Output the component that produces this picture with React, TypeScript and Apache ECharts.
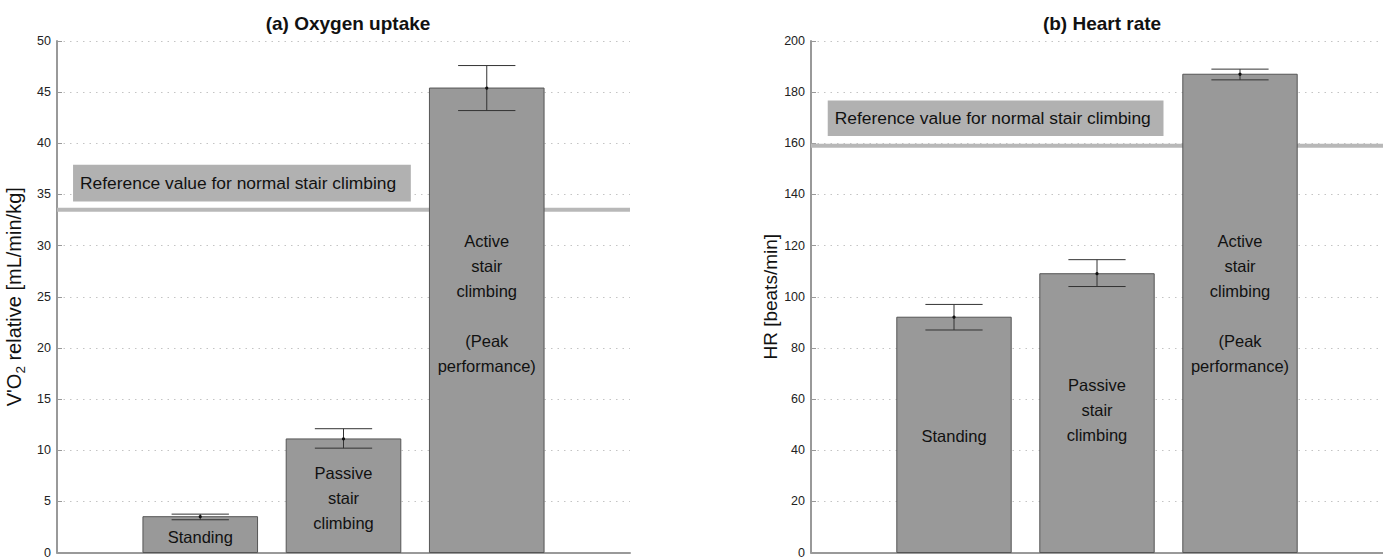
import React, { useEffect, useRef } from "react";
import * as echarts from "echarts";

// Bar positions on the x axis (1, 2, 3) and their in-bar captions
const categories = ["Standing", "Passive stair climbing", "Active stair climbing (Peak performance)"];
const barCaptions = [
  "Standing",
  "Passive\nstair\nclimbing",
  "Active\nstair\nclimbing\n\n(Peak\nperformance)",
];

// (a) Oxygen uptake, mL/min/kg
const vo2Mean = [3.5, 11.1, 45.4];
const vo2Low = [3.2, 10.2, 43.2];
const vo2High = [3.75, 12.1, 47.6];
const vo2Reference = 33.5;
const vo2Ticks = [0, 5, 10, 15, 20, 25, 30, 35, 40, 45, 50];

// (b) Heart rate, beats/min
const hrMean = [92, 109, 187];
const hrLow = [87, 104, 184.8];
const hrHigh = [97, 114.5, 189];
const hrReference = 159;
const hrTicks = [0, 20, 40, 60, 80, 100, 120, 140, 160, 180, 200];

// Where the captions sit inside the bars (value-axis units)
const vo2CaptionY = [1.55, 5.3, 24.3];
const hrCaptionY = [45.7, 55.9, 97.5];

// Reference-value label boxes: [x0, x1, y0, y1] in axis units
const vo2RefBox = [0.112, 2.47, 34.3, 37.9];
const hrRefBox = [0.117, 2.465, 162.9, 176.7];
const refText = "Reference value for normal stair climbing";

const FONT = "'Liberation Sans', Arial, Helvetica, sans-serif";
const BAR_HALF = 0.4;
const CAP_HALF = 0.2;

function panelSeries(
  idx: number,
  mean: number[],
  low: number[],
  high: number[],
  captionY: number[],
  ref: number,
  box: number[]
): any[] {
  const common = { xAxisIndex: idx, yAxisIndex: idx, silent: true };
  return [
    // reference line across the whole panel
    {
      ...common,
      type: "custom",
      z: 2,
      data: [[0, ref]],
      renderItem: (_p: any, api: any) => {
        const a = api.coord([0, api.value(1)]);
        const b = api.coord([4, api.value(1)]);
        return {
          type: "line",
          shape: { x1: a[0], y1: a[1], x2: b[0], y2: b[1] },
          style: { stroke: "#b8b8b8", lineWidth: 4 },
        };
      },
    },
    // reference label box
    {
      ...common,
      type: "custom",
      z: 3,
      data: [box],
      renderItem: (_p: any, api: any) => {
        const tl = api.coord([api.value(0), api.value(3)]);
        const br = api.coord([api.value(1), api.value(2)]);
        return {
          type: "group",
          children: [
            {
              type: "rect",
              shape: { x: tl[0], y: tl[1], width: br[0] - tl[0], height: br[1] - tl[1] },
              style: { fill: "#b1b1b1" },
            },
            {
              type: "text",
              x: tl[0] + 7,
              y: (tl[1] + br[1]) / 2,
              style: {
                text: refText,
                fill: "#111",
                fontSize: 17.4,
                fontFamily: FONT,
                textAlign: "left",
                textVerticalAlign: "middle",
              },
            },
          ],
        };
      },
    },
    // bars
    {
      ...common,
      type: "custom",
      name: "bars",
      z: 4,
      data: mean.map((v, i) => [i + 1, v]),
      renderItem: (_p: any, api: any) => {
        const x = api.value(0);
        const p0 = api.coord([x - BAR_HALF, api.value(1)]);
        const p1 = api.coord([x + BAR_HALF, 0]);
        return {
          type: "rect",
          shape: { x: p0[0], y: p0[1], width: p1[0] - p0[0], height: p1[1] - p0[1] },
          style: { fill: "#999999", stroke: "#555555", lineWidth: 1 },
        };
      },
    },
    // captions inside bars
    {
      ...common,
      type: "custom",
      z: 5,
      data: captionY.map((y, i) => [i + 1, y]),
      renderItem: (p: any, api: any) => {
        const c = api.coord([api.value(0), api.value(1)]);
        return {
          type: "text",
          x: c[0],
          y: c[1],
          style: {
            text: barCaptions[p.dataIndex],
            fill: "#111",
            fontSize: 16.5,
            lineHeight: 25,
            fontFamily: FONT,
            textAlign: "center",
            textVerticalAlign: "middle",
          },
        };
      },
    },
    // error bars
    {
      ...common,
      type: "custom",
      z: 6,
      data: mean.map((v, i) => [i + 1, low[i], high[i], v]),
      renderItem: (_p: any, api: any) => {
        const x = api.value(0);
        const lo = api.coord([x, api.value(1)]);
        const hi = api.coord([x, api.value(2)]);
        const mid = api.coord([x, api.value(3)]);
        const l = api.coord([x - CAP_HALF, api.value(1)]);
        const r = api.coord([x + CAP_HALF, api.value(1)]);
        const w = r[0] - l[0];
        const st = { stroke: "#333333", lineWidth: 1 };
        return {
          type: "group",
          children: [
            { type: "line", shape: { x1: lo[0], y1: lo[1], x2: hi[0], y2: hi[1] }, style: st },
            { type: "line", shape: { x1: l[0], y1: lo[1], x2: l[0] + w, y2: lo[1] }, style: st },
            { type: "line", shape: { x1: l[0], y1: hi[1], x2: l[0] + w, y2: hi[1] }, style: st },
            { type: "circle", shape: { cx: mid[0], cy: mid[1], r: 1.6 }, style: { fill: "#111" } },
          ],
        };
      },
    },
  ];
}

function yAxisOf(idx: number, ticks: number[], name: string, gap: number, size: number): any {
  return {
    type: "value",
    gridIndex: idx,
    min: ticks[0],
    max: ticks[ticks.length - 1],
    interval: ticks[1] - ticks[0],
    name,
    nameLocation: "middle",
    nameGap: gap,
    nameRotate: 90,
    nameTextStyle: {
      fontSize: size,
      fontFamily: FONT,
      color: "#111",
      rich: {
        n: { fontSize: size, fontFamily: FONT, color: "#111", lineHeight: 22 },
        sub: { fontSize: 13.5, fontFamily: FONT, color: "#111", lineHeight: 27, verticalAlign: "bottom" },
      },
    },
    axisLine: { show: true, lineStyle: { color: "#999999", width: 2 } },
    axisTick: { show: true, inside: true, length: 5, lineStyle: { color: "#999999" } },
    axisLabel: { fontSize: 12.5, fontFamily: FONT, color: "#222", margin: 6 },
    splitLine: { show: true, lineStyle: { color: "#c4c4c4", type: [1.5, 5], width: 1 } },
  };
}

function xAxisOf(idx: number): any {
  return {
    type: "value",
    gridIndex: idx,
    min: 0,
    max: 4,
    axisLine: { show: true, lineStyle: { color: "#999999", width: 2 } },
    axisTick: { show: false },
    axisLabel: { show: false },
    splitLine: { show: false },
  };
}

export default function App() {
  const ref = useRef<HTMLDivElement>(null);

  useEffect(() => {
    if (!ref.current) return;
    const chart = echarts.init(ref.current, null, { renderer: "svg" });
    chart.setOption({
      animation: false,
      backgroundColor: "#ffffff",
      title: [
        {
          text: "(a) Oxygen uptake",
          left: 343,
          top: 9,
          textAlign: "center",
          textStyle: { fontSize: 19, fontWeight: "bold", fontFamily: FONT, color: "#111" },
        },
        {
          text: "(b) Heart rate",
          left: 1097,
          top: 9,
          textAlign: "center",
          textStyle: { fontSize: 19, fontWeight: "bold", fontFamily: FONT, color: "#111" },
        },
      ],
      grid: [
        { left: 57, top: 41, width: 573, height: 513 },
        { left: 811, top: 41, width: 573, height: 513 },
      ],
      xAxis: [xAxisOf(0), xAxisOf(1)],
      yAxis: [
        yAxisOf(0, vo2Ticks, "{n|V'O}{sub|2}{n| relative [mL/min/kg]}", 30, 20),
        yAxisOf(1, hrTicks, "HR [beats/min]", 28, 19),
      ],
      series: [
        ...panelSeries(0, vo2Mean, vo2Low, vo2High, vo2CaptionY, vo2Reference, vo2RefBox),
        ...panelSeries(1, hrMean, hrLow, hrHigh, hrCaptionY, hrReference, hrRefBox),
      ],
    });
    return () => chart.dispose();
  }, []);

  return (
    <div
      ref={ref}
      aria-label={categories.join(", ")}
      style={{ position: "absolute", left: 0, top: 0, width: 1383, height: 559, background: "#fff" }}
    />
  );
}
